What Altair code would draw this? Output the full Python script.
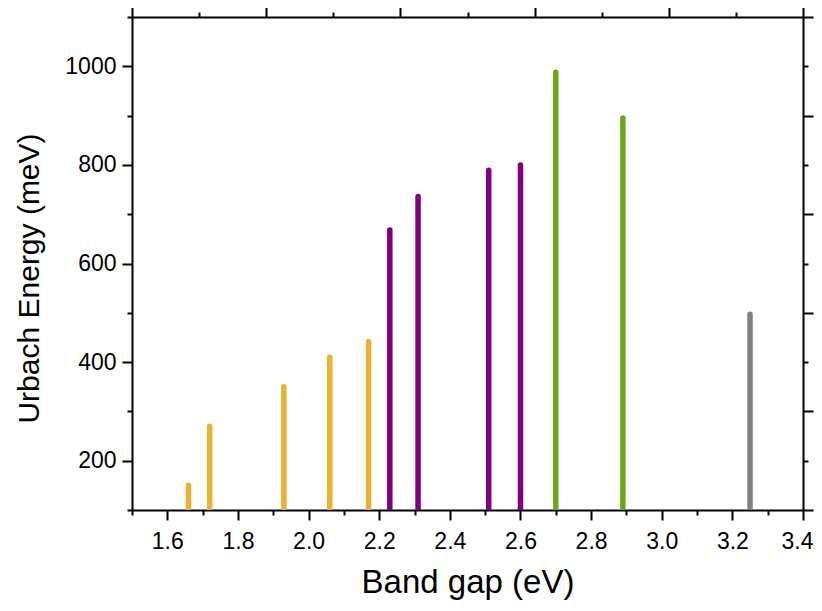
import altair as alt
import pandas as pd

# ---- data ----
band_gap = [1.66, 1.72, 1.93, 2.06, 2.17, 2.23, 2.31, 2.51, 2.60, 2.70, 2.89, 3.25]
urbach = [150, 270, 350, 410, 442, 668, 736, 789, 800, 988, 895, 497]
bar_colors = ["#E9B22F"] * 5 + ["#800080"] * 4 + ["#6AA818"] * 2 + ["#808080"]

x_domain = [1.5, 3.4]
y_domain = [100, 1100]

bottom_major = [1.6, 1.8, 2.0, 2.2, 2.4, 2.6, 2.8, 3.0, 3.2, 3.4]
bottom_minor = [1.5, 1.7, 1.9, 2.1, 2.3, 2.5, 2.7, 2.9, 3.1, 3.3]
top_major = [1.5, 1.88, 2.26, 2.64, 3.02, 3.4]
top_minor = [1.69, 2.07, 2.45, 2.83, 3.21]
left_major = [200, 400, 600, 800, 1000]
left_minor = [100, 300, 500, 700, 900, 1100]
right_major = [100, 300, 500, 700, 900, 1100]
right_minor = [200, 400, 600, 800, 1000]

df = pd.DataFrame({
    "gap": band_gap,
    "eu": urbach,
    "base": [y_domain[0]] * len(band_gap),
    "color": bar_colors,
})

FONT = "Liberation Sans"
W, H = 671, 493

xs = alt.Scale(domain=x_domain, nice=False, zero=False)
ys = alt.Scale(domain=y_domain, nice=False, zero=False)

tick_common = dict(grid=False, tickColor="black", tickWidth=2, domainColor="black",
                   domainWidth=2, labelFont=FONT, titleFont=FONT)

bars = alt.Chart(df).mark_rule(strokeWidth=5.5, strokeCap="round", clip=True).encode(
    x=alt.X("gap:Q", scale=xs, axis=alt.Axis(
        orient="bottom", values=bottom_major, format=".1f", tickSize=10,
        labelFontSize=23, labelColor="black", labelPadding=10, labelFlush=False,
        labelAlign={"expr": "datum.value >= 3.39 ? 'right' : 'center'"},
        labelOffset={"expr": "datum.value >= 3.39 ? 10 : 0"},
        title="Band gap (eV)", titleFontSize=33, titleFontWeight="normal", titleColor="black",
        titleX=W / 2, titleY=72, titleAlign="center", titleBaseline="middle",
        **tick_common)),
    y=alt.Y("eu:Q", scale=ys, axis=alt.Axis(
        orient="left", values=left_major, format="d", tickSize=10,
        labelFontSize=23, labelColor="black", labelPadding=6, labelFlush=False,
        title="Urbach Energy (meV)", titleFontSize=30, titleFontWeight="normal", titleColor="black",
        titleX=-103, titleY=261, titleAlign="center", titleBaseline="middle", titleAngle=270,
        **tick_common)),
    y2="base:Q",
    color=alt.Color("color:N", scale=None),
)

def ghost(xaxis, yaxis):
    return alt.Chart(df).mark_point(opacity=0, size=1).encode(
        x=alt.X("gap:Q", scale=xs, axis=xaxis),
        y=alt.Y("eu:Q", scale=ys, axis=yaxis),
    )

minor_bl = ghost(
    alt.Axis(orient="bottom", values=bottom_minor, tickSize=5, labels=False, domain=False,
             title="", **tick_common),
    alt.Axis(orient="left", values=left_minor, tickSize=5, labels=False, domain=False,
             title="", **tick_common),
)
major_tr = ghost(
    alt.Axis(orient="top", values=top_major, tickSize=10, labels=False, domain=True,
             title="", **tick_common),
    alt.Axis(orient="right", values=right_major, tickSize=10, labels=False, domain=True,
             title="", **tick_common),
)
minor_tr = ghost(
    alt.Axis(orient="top", values=top_minor, tickSize=5, labels=False, domain=False,
             title="", **tick_common),
    alt.Axis(orient="right", values=right_minor, tickSize=5, labels=False, domain=False,
             title="", **tick_common),
)

chart = alt.layer(bars, minor_bl, major_tr, minor_tr).resolve_scale(
    x="independent", y="independent"
).properties(
    width=W, height=H,
    autosize=alt.AutoSizeParams(type="none"),
    padding={"left": 124, "top": 9, "right": 11, "bottom": 93},
    background="white",
).configure_view(strokeWidth=0)

chart.save("out.html", embed_options={"renderer": "svg", "actions": False})
